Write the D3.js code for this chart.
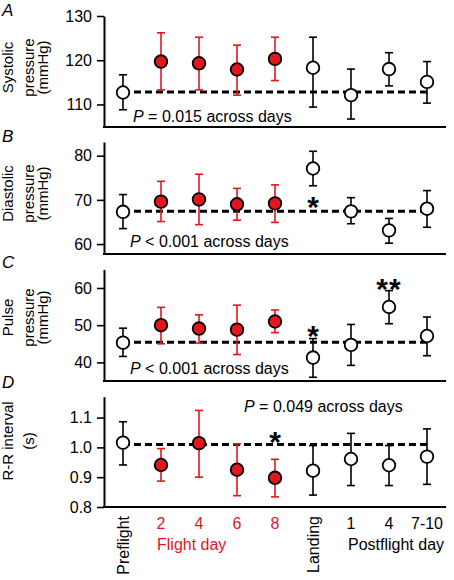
<!DOCTYPE html>
<html>
<head>
<meta charset="utf-8">
<script src="https://cdn.jsdelivr.net/npm/d3@7"></script>
<style>
  html, body { margin: 0; padding: 0; background: #fff; }
  svg { display: block; font-family: "Liberation Sans", Arial, sans-serif; }
</style>
</head>
<body>
<svg id="chart" width="454" height="580"></svg>
<script>
// ---------- data ----------
const categories = ["Preflight", "2", "4", "6", "8", "Landing", "1", "4", "7-10"];
const inFlight = [false, true, true, true, true, false, false, false, false];

const systolicMean  = [112.7, 119.7, 119.3, 117.9, 120.3, 118.3, 112.1, 118.0, 115.1];
const systolicUpper = [116.7, 126.2, 125.2, 123.4, 125.2, 125.2, 118.0, 121.7, 119.7];
const systolicLower = [108.8, 113.3, 113.3, 112.1, 115.4, 109.4, 106.7, 114.2, 110.3];
const systolicRef = 112.8;

const diastolicMean  = [67.3, 69.6, 70.1, 69.0, 69.2, 77.1, 67.4, 63.1, 68.0];
const diastolicUpper = [71.2, 74.2, 75.8, 72.6, 73.4, 81.0, 70.5, 65.8, 72.1];
const diastolicLower = [63.5, 65.1, 64.4, 65.4, 64.9, 73.2, 64.6, 60.2, 63.8];
const diastolicRef = 67.4;

const pulseMean  = [45.3, 50.0, 49.1, 48.8, 51.0, 41.3, 44.7, 54.9, 47.1];
const pulseUpper = [49.2, 54.8, 52.8, 55.4, 54.1, 46.4, 50.2, 59.3, 52.2];
const pulseLower = [41.6, 45.0, 45.2, 42.1, 48.0, 36.0, 39.2, 50.4, 41.8];
const pulseRef = 45.4;

const rrMean  = [1.016, 0.941, 1.014, 0.925, 0.898, 0.922, 0.961, 0.940, 0.969];
const rrUpper = [1.086, 0.996, 1.124, 1.012, 0.960, 1.006, 1.047, 1.006, 1.062];
const rrLower = [0.941, 0.887, 0.900, 0.838, 0.834, 0.840, 0.872, 0.872, 0.876];
const rrRef = 1.010;

const systolicTicks = [110, 120, 130];
const diastolicTicks = [60, 70, 80];
const pulseTicks = [40, 50, 60];
const rrTicks = [0.8, 0.9, 1.0, 1.1];

// ---------- styling ----------
const RED = "#e3161d";
const BLACK = "#000";
const svg = d3.select("#chart");

const x = d3.scaleLinear().domain([-0.5, 8.5]).range([104, 446]);

const panels = [
  { letter: "A", letterY: 15.5, title: ["Systolic", "pressure", "(mmHg)"], titleY: 67.5,
    domain: [104.9, 130], range: [127, 16], ticks: systolicTicks, fmt: d3.format("d"),
    mean: systolicMean, upper: systolicUpper, lower: systolicLower, ref: systolicRef,
    pOp: " = 0.015 across days", pX: 133, pY: 121.5, stars: [] },
  { letter: "B", letterY: 141.5, title: ["Diastolic", "pressure", "(mmHg)"], titleY: 193.5,
    domain: [57.75, 83.1], range: [254, 142], ticks: diastolicTicks, fmt: d3.format("d"),
    mean: diastolicMean, upper: diastolicUpper, lower: diastolicLower, ref: diastolicRef,
    pOp: " < 0.001 across days", pX: 130, pY: 246.5, stars: [{ i: 5, v: 70.0, t: "*" }] },
  { letter: "C", letterY: 268, title: ["Pulse", "pressure", "(mmHg)"], titleY: 317.5,
    domain: [35, 65], range: [381, 269.4], ticks: pulseTicks, fmt: d3.format("d"),
    mean: pulseMean, upper: pulseUpper, lower: pulseLower, ref: pulseRef,
    pOp: " < 0.001 across days", pX: 130, pY: 374, stars: [{ i: 5, v: 49.0, t: "*" }, { i: 7, v: 61.6, t: "**" }] },
  { letter: "D", letterY: 388, title: ["R-R interval", "(s)"], titleY: 441,
    domain: [0.8, 1.17], range: [507, 396.7], ticks: rrTicks, fmt: d3.format(".1f"),
    mean: rrMean, upper: rrUpper, lower: rrLower, ref: rrRef,
    pOp: " = 0.049 across days", pX: 244, pY: 411.5, stars: [{ i: 4, v: 1.042, t: "*" }] }
];

const titleBaselines = [12.5, 33.5, 48];

panels.forEach(p => {
  const y = d3.scaleLinear().domain(p.domain).range(p.range);
  const g = svg.append("g");

  // panel letter
  g.append("text").attr("x", 2).attr("y", p.letterY)
    .attr("font-size", 17).attr("font-style", "italic").text(p.letter);

  // y axis title (rotated lines)
  p.title.forEach((line, k) => {
    g.append("text")
      .attr("transform", `translate(${titleBaselines[k]},${p.titleY}) rotate(-90)`)
      .attr("text-anchor", "middle").attr("font-size", 15).text(line);
  });

  // y axis
  const yAxis = g.append("g").attr("transform", `translate(${x.range()[0]},0)`)
    .call(d3.axisLeft(y).tickValues(p.ticks).tickFormat(p.fmt).tickSize(7).tickSizeOuter(0).tickPadding(5));
  yAxis.select(".domain").attr("stroke", BLACK).attr("stroke-width", 2);
  yAxis.selectAll(".tick line").attr("stroke", BLACK).attr("stroke-width", 1.6);
  yAxis.selectAll(".tick text").attr("font-size", 16).attr("fill", BLACK)
    .attr("font-family", "Liberation Sans, Arial, sans-serif");

  // x axis (line only)
  const xAxis = g.append("g").attr("transform", `translate(0,${p.range[0]})`)
    .call(d3.axisBottom(x).tickValues([]).tickSizeOuter(0));
  xAxis.select(".domain").attr("stroke", BLACK).attr("stroke-width", 2)
    .attr("d", `M${x.range()[0] - 1},0H${x.range()[1]}`);

  // dashed reference line
  g.append("line")
    .attr("x1", x(0)).attr("x2", x(8))
    .attr("y1", y(p.ref)).attr("y2", y(p.ref))
    .attr("stroke", BLACK).attr("stroke-width", 3).attr("stroke-dasharray", "7,4");

  // error bars
  const idx = d3.range(categories.length);
  const eb = g.selectAll(".eb").data(idx).enter().append("g")
    .attr("stroke", i => inFlight[i] ? RED : BLACK).attr("stroke-width", 1.6).attr("fill", "none");
  eb.append("line").attr("x1", i => x(i)).attr("x2", i => x(i))
    .attr("y1", i => y(p.upper[i])).attr("y2", i => y(p.lower[i]));
  eb.append("line").attr("x1", i => x(i) - 4).attr("x2", i => x(i) + 4)
    .attr("y1", i => y(p.upper[i])).attr("y2", i => y(p.upper[i]));
  eb.append("line").attr("x1", i => x(i) - 4).attr("x2", i => x(i) + 4)
    .attr("y1", i => y(p.lower[i])).attr("y2", i => y(p.lower[i]));

  // markers
  g.selectAll(".pt").data(idx).enter().append("circle")
    .attr("cx", i => x(i)).attr("cy", i => y(p.mean[i])).attr("r", 6.3)
    .attr("fill", i => inFlight[i] ? RED : "#fff")
    .attr("stroke", BLACK).attr("stroke-width", 1.8);

  // P text
  const pt = g.append("text").attr("x", p.pX).attr("y", p.pY).attr("font-size", 16);
  pt.append("tspan").attr("font-style", "italic").text("P");
  pt.append("tspan").text(p.pOp);

  // significance stars
  p.stars.forEach(s => {
    g.append("text").attr("x", x(s.i)).attr("y", y(s.v) + 17)
      .attr("text-anchor", "middle").attr("font-size", 30).attr("font-weight", "bold")
      .attr("letter-spacing", s.t.length > 1 ? 1 : 0)
      .text(s.t);
  });
});

// ---------- x category labels ----------
const xl = svg.append("g").attr("font-size", 16);
categories.forEach((c, i) => {
  if (c === "Preflight" || c === "Landing") {
    xl.append("text")
      .attr("transform", `translate(${x(i) + 6},516) rotate(-90)`)
      .attr("text-anchor", "end").attr("fill", BLACK).text(c);
  } else {
    xl.append("text").attr("x", x(i)).attr("y", 529)
      .attr("text-anchor", "middle").attr("fill", inFlight[i] ? RED : BLACK).text(c);
  }
});
xl.append("text").attr("x", 157).attr("y", 550).attr("fill", RED).text("Flight day");
xl.append("text").attr("x", 348).attr("y", 550).attr("fill", BLACK).text("Postflight day");
</script>
</body>
</html>
